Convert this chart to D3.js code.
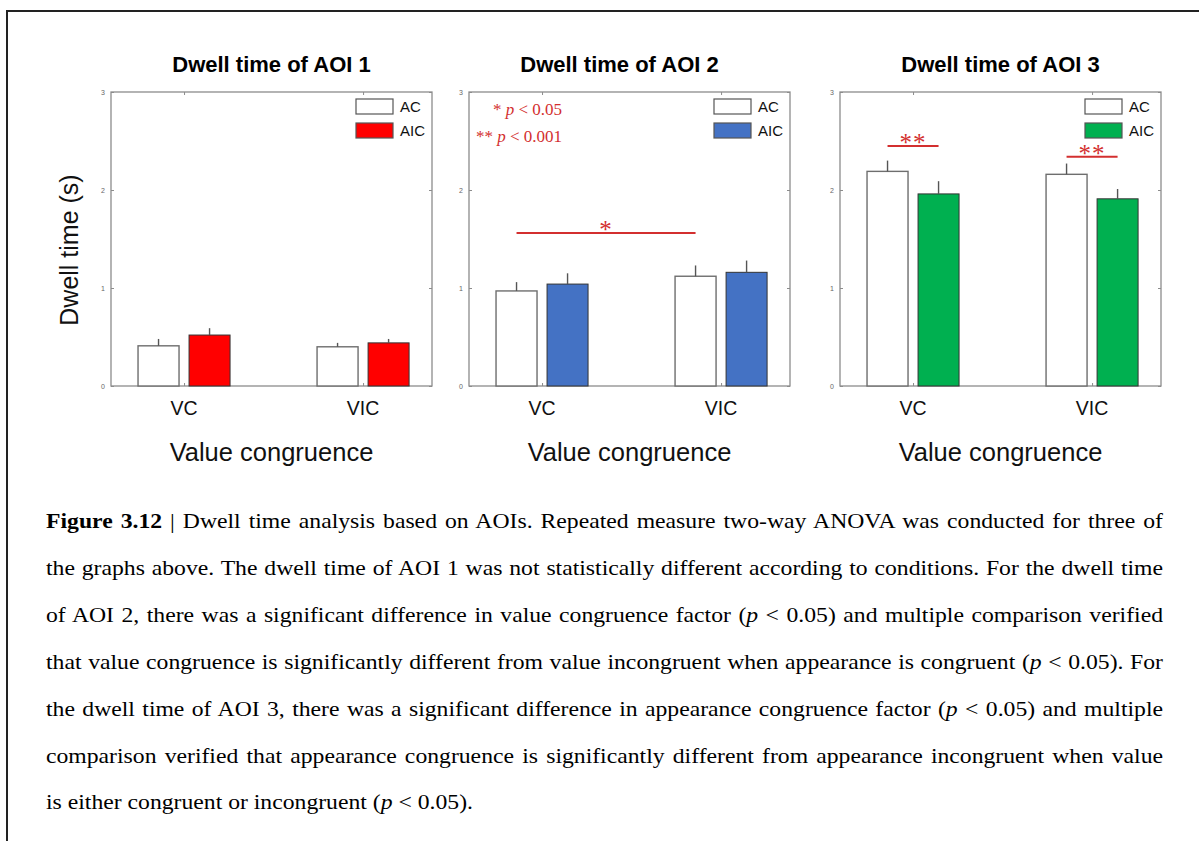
<!DOCTYPE html>
<html>
<head>
<meta charset="utf-8">
<script src="https://cdn.jsdelivr.net/npm/d3@7"></script>
<style>
  html, body { margin: 0; padding: 0; background: #fff; }
  svg { display: block; }
</style>
</head>
<body>
<div id="chart"></div>
<script>
"use strict";

// data
var panelTitles = ["Dwell time of AOI 1", "Dwell time of AOI 2", "Dwell time of AOI 3"];
var categories = ["VC", "VIC"];
var seriesNames = ["AC", "AIC"];
var meanAC  = [[0.41, 0.40], [0.97, 1.12], [2.19, 2.16]];
var meanAIC = [[0.52, 0.44], [1.04, 1.16], [1.96, 1.91]];
var errAC   = [[0.07, 0.04], [0.09, 0.11], [0.11, 0.11]];
var errAIC  = [[0.07, 0.04], [0.11, 0.12], [0.13, 0.10]];
var aicColors = ["#ff0000", "#4472c4", "#00b050"];
var yTicks = [0, 1, 2, 3];
// significance bars: panel, [category, series] at both ends, height in seconds
var sigPanel = [1, 2, 2];
var sigFrom  = [[0, 0], [0, 0], [1, 0]];
var sigTo    = [[1, 0], [0, 1], [1, 1]];
var sigY     = [1.56, 2.45, 2.34];
var sigLabel = ["*", "**", "**"];

var captionLines = [
  "**Figure 3.12** | Dwell time analysis based on AOIs. Repeated measure two-way ANOVA was conducted for three of",
  "the graphs above. The dwell time of AOI 1 was not statistically different according to conditions. For the dwell time",
  "of AOI 2, there was a significant difference in value congruence factor (_p_ < 0.05) and multiple comparison verified",
  "that value congruence is significantly different from value incongruent when appearance is congruent (_p_ < 0.05). For",
  "the dwell time of AOI 3, there was a significant difference in appearance congruence factor (_p_ < 0.05) and multiple",
  "comparison verified that appearance congruence is significantly different from appearance incongruent when value",
  "is either congruent or incongruent (_p_ < 0.05)."
];

var W = 1199, H = 841;
var chart = {top: 92, bottom: 386, width: 321, lefts: [111, 469, 840]};
var titleDx = [0, -10, 0];
var barW = 0.229, barOff = 0.1425;
var red = "#d32f2f";
var sans = "Arial, 'Liberation Sans', Helvetica, sans-serif";
var serif = "'Times New Roman', 'Liberation Serif', serif";

var svg = d3.select("#chart").append("svg")
  .attr("width", W)
  .attr("height", H);

// page frame
svg.append("rect")
  .attr("x", 7).attr("y", 11)
  .attr("width", W + 20).attr("height", H + 20)
  .attr("fill", "none")
  .attr("stroke", "#222")
  .attr("stroke-width", 2);

var y = d3.scaleLinear().domain([0, 3]).range([chart.bottom, chart.top]);

panelTitles.forEach(function(title, p) {
  var left = chart.lefts[p];
  var x = d3.scaleLinear().domain([0.592, 2.385]).range([left, left + chart.width]);
  var g = svg.append("g");
  var cx = left + chart.width / 2;

  g.append("text")
    .attr("x", cx + titleDx[p]).attr("y", 72)
    .attr("text-anchor", "middle")
    .attr("font-family", sans)
    .attr("font-weight", "bold")
    .attr("font-size", 22)
    .text(title);

  // axis box
  g.append("rect")
    .attr("x", left).attr("y", chart.top)
    .attr("width", chart.width).attr("height", chart.bottom - chart.top)
    .attr("fill", "none")
    .attr("stroke", "#8c8c8c")
    .attr("stroke-width", 1.3);

  // y ticks, inward on both sides
  var yAxisL = d3.axisLeft(y).tickValues(yTicks).tickFormat(d3.format("d"))
    .tickSizeInner(-3).tickSizeOuter(0).tickPadding(6);
  var yAxisR = d3.axisRight(y).tickValues(yTicks).tickSizeInner(-3).tickSizeOuter(0).tickFormat("");
  var gl = g.append("g").attr("transform", "translate(" + left + ",0)").call(yAxisL);
  g.append("g").attr("transform", "translate(" + (left + chart.width) + ",0)").call(yAxisR);
  gl.selectAll(".tick text")
    .attr("font-family", sans)
    .attr("font-size", 7)
    .attr("fill", "#666");

  // x ticks top and bottom
  var xAxisB = d3.axisBottom(x).tickValues([1, 2]).tickSizeInner(-3).tickSizeOuter(0).tickFormat("");
  var xAxisT = d3.axisTop(x).tickValues([1, 2]).tickSizeInner(-3).tickSizeOuter(0).tickFormat("");
  g.append("g").attr("transform", "translate(0," + chart.bottom + ")").call(xAxisB);
  g.append("g").attr("transform", "translate(0," + chart.top + ")").call(xAxisT);
  g.selectAll(".domain").remove();
  g.selectAll(".tick line").attr("stroke", "#8c8c8c");

  // bars
  var bars = [];
  categories.forEach(function(cat, c) {
    bars.push({c: c, s: 0, v: meanAC[p][c], e: errAC[p][c]});
    bars.push({c: c, s: 1, v: meanAIC[p][c], e: errAIC[p][c]});
  });

  g.selectAll("rect.bar")
    .data(bars)
    .enter()
      .append("rect")
        .attr("class", "bar")
        .attr("x", function(d) { return x(d.c + 1 + (d.s ? barOff : -barOff) - barW / 2); })
        .attr("y", function(d) { return y(d.v); })
        .attr("width", function(d) { return x(barW) - x(0); })
        .attr("height", function(d) { return y(0) - y(d.v); })
        .attr("fill", function(d) { return d.s ? aicColors[p] : "#fff"; })
        .attr("stroke", function(d) { return d.s ? "#333" : "#6e6e6e"; })
        .attr("stroke-width", function(d) { return d.s ? 1 : 1.4; });

  // error bars, upper half only
  g.selectAll("line.err")
    .data(bars)
    .enter()
      .append("line")
        .attr("class", "err")
        .attr("x1", function(d) { return x(d.c + 1 + (d.s ? barOff : -barOff)); })
        .attr("x2", function(d) { return x(d.c + 1 + (d.s ? barOff : -barOff)); })
        .attr("y1", function(d) { return y(d.v); })
        .attr("y2", function(d) { return y(d.v + d.e); })
        .attr("stroke", "#555")
        .attr("stroke-width", 1.4);

  // category labels
  g.selectAll("text.cat")
    .data(categories)
    .enter()
      .append("text")
        .attr("class", "cat")
        .attr("x", function(d, i) { return x(i + 1); })
        .attr("y", 415)
        .attr("text-anchor", "middle")
        .attr("font-family", sans)
        .attr("font-size", 19.5)
        .attr("fill", "#111")
        .text(function(d) { return d; });

  g.append("text")
    .attr("x", cx).attr("y", 461)
    .attr("text-anchor", "middle")
    .attr("font-family", sans)
    .attr("font-size", 25.5)
    .attr("fill", "#111")
    .text("Value congruence");

  // legend
  var lx = left + chart.width - 76;
  seriesNames.forEach(function(name, s) {
    var ly = 99 + s * 24;
    g.append("rect")
      .attr("x", lx).attr("y", ly)
      .attr("width", 37).attr("height", 15)
      .attr("fill", s ? aicColors[p] : "#fff")
      .attr("stroke", "#555")
      .attr("stroke-width", 1.2);
    g.append("text")
      .attr("x", lx + 44).attr("y", ly + 13)
      .attr("font-family", sans)
      .attr("font-size", 15)
      .attr("fill", "#111")
      .text(name);
  });

  // significance
  sigPanel.forEach(function(sp, k) {
    if (sp !== p) return;
    var x1 = x(sigFrom[k][0] + 1 + (sigFrom[k][1] ? barOff : -barOff));
    var x2 = x(sigTo[k][0] + 1 + (sigTo[k][1] ? barOff : -barOff));
    g.append("line")
      .attr("x1", x1).attr("x2", x2)
      .attr("y1", y(sigY[k])).attr("y2", y(sigY[k]))
      .attr("stroke", red)
      .attr("stroke-width", 2);
    g.append("text")
      .attr("x", (x1 + x2) / 2).attr("y", y(sigY[k]) + 5)
      .attr("text-anchor", "middle")
      .attr("font-family", serif)
      .attr("font-size", 25)
      .attr("letter-spacing", 1)
      .attr("fill", red)
      .text(sigLabel[k]);
  });

  if (p === 1) {
    var note = [["* ", " < 0.05"], ["** ", " < 0.001"]];
    note.forEach(function(n, i) {
      var t = g.append("text")
        .attr("x", left + 93).attr("y", 115 + i * 27)
        .attr("text-anchor", "end")
        .attr("font-family", serif)
        .attr("font-size", 17)
        .attr("fill", red)
        .style("white-space", "pre");
      t.append("tspan").text(n[0]);
      t.append("tspan").attr("font-style", "italic").text("p");
      t.append("tspan").text(n[1]);
    });
  }
});

// y axis title
svg.append("text")
  .attr("transform", "translate(78,250) rotate(-90)")
  .attr("text-anchor", "middle")
  .attr("font-family", sans)
  .attr("font-size", 25)
  .attr("fill", "#111")
  .text("Dwell time (s)");

// caption, justified line by line
var capLeft = 46, capRight = 1163, capSx = 1.15, capSize = 20.6;
var capTarget = (capRight - capLeft) / capSx;

captionLines.forEach(function(line, i) {
  var t = svg.append("text")
    .attr("transform", "translate(" + capLeft + "," + (528 + i * 46.9) + ") scale(" + capSx + ",1)")
    .attr("font-family", serif)
    .attr("font-size", capSize)
    .attr("fill", "#000")
    .style("white-space", "pre");

  line.split(/(\*\*[^*]+\*\*|_[^_]+_)/).forEach(function(part) {
    if (!part) return;
    if (part.indexOf("**") === 0) {
      t.append("tspan").attr("font-weight", "bold").text(part.slice(2, -2));
    } else if (part.charAt(0) === "_") {
      t.append("tspan").attr("font-style", "italic").text(part.slice(1, -1));
    } else {
      t.append("tspan").text(part);
    }
  });

  if (i < captionLines.length - 1) {
    var natural = t.node().getComputedTextLength();
    var spaces = (line.match(/ /g) || []).length;
    t.style("word-spacing", ((capTarget - natural) / spaces) + "px");
  }
});
</script>
</body>
</html>
